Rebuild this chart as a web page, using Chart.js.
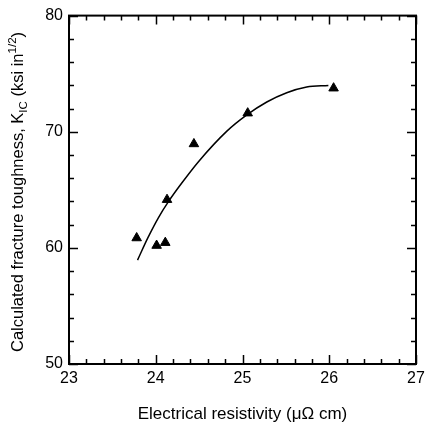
<!DOCTYPE html>
<html>
<head>
<meta charset="utf-8">
<script src="https://cdn.jsdelivr.net/npm/chart.js@4"></script>
<style>
html,body{margin:0;padding:0;background:#fff;overflow:hidden;width:425px;height:428px;}
#wrap{width:425px;height:428px;position:relative;overflow:hidden;}
</style>
</head>
<body>
<div id="wrap"><canvas id="c" width="434" height="428"></canvas></div>
<script>
// Measured data points (triangles)
const resistivity = [23.78, 24.01, 24.11, 24.13, 24.44, 25.06, 26.05];
const toughness   = [60.85, 60.2, 60.45, 64.15, 68.95, 71.6, 73.75];
// Fitted curve
const curveX = [23.79, 23.91, 24.03, 24.15, 24.30, 24.49, 24.82, 25.05, 25.28, 25.51, 25.74, 25.99];
const curveY = [58.95, 60.88, 62.59, 64.02, 65.58, 67.4, 70.05, 71.45, 72.56, 73.36, 73.85, 73.99];
// Axis ranges and ticks
const xMin = 23, xMax = 27, xMajor = 1, xMinor = 0.2;
const yMin = 50, yMax = 80, yMajor = 10, yMinor = 2;
const xTitle = "Electrical resistivity (\u03bc\u03a9 cm)";
const yTitleParts = [
  ["Calculated fracture toughness, K", "n"],
  ["IC", "sub"],
  [" (ksi in", "n"],
  ["1/2", "sup"],
  [")", "n"]
];

const FONT = "'Liberation Sans', Arial, Helvetica, sans-serif";

const framePlugin = {
  id: 'frame',
  afterDraw(chart) {
    const ctx = chart.ctx;
    const a = chart.chartArea;
    const xs = chart.scales.x, ys = chart.scales.y;
    ctx.save();
    ctx.strokeStyle = '#000';
    ctx.lineWidth = 2;
    ctx.strokeRect(a.left, a.top, a.right - a.left, a.bottom - a.top);
    ctx.lineWidth = 1.5;
    const nx = Math.round((xMax - xMin) / xMinor);
    for (let i = 0; i <= nx; i++) {
      const v = xMin + i * xMinor;
      const major = Math.abs(v / xMajor - Math.round(v / xMajor)) < 1e-6;
      const len = major ? 9 : 5;
      const px = Math.round(xs.getPixelForValue(v)) + 0.5;
      ctx.beginPath();
      ctx.moveTo(px, a.bottom); ctx.lineTo(px, a.bottom - len);
      ctx.moveTo(px, a.top); ctx.lineTo(px, a.top + len);
      ctx.stroke();
    }
    const ny = Math.round((yMax - yMin) / yMinor);
    for (let i = 0; i <= ny; i++) {
      const v = yMin + i * yMinor;
      const major = Math.abs(v / yMajor - Math.round(v / yMajor)) < 1e-6;
      const len = major ? 9 : 5;
      const py = Math.round(ys.getPixelForValue(v)) + 0.5;
      ctx.beginPath();
      ctx.moveTo(a.left, py); ctx.lineTo(a.left + len, py);
      ctx.moveTo(a.right, py); ctx.lineTo(a.right - len, py);
      ctx.stroke();
    }
    // Rotated y-axis title with sub/superscripts
    ctx.fillStyle = '#000';
    ctx.textBaseline = 'alphabetic';
    const big = "16.5px " + FONT, small = "11.5px " + FONT;
    let total = 0;
    for (const [t, k] of yTitleParts) {
      ctx.font = k === 'n' ? big : small;
      total += ctx.measureText(t).width;
    }
    ctx.translate(23, 192);
    ctx.rotate(-Math.PI / 2);
    let x = -total / 2;
    for (const [t, k] of yTitleParts) {
      ctx.font = k === 'n' ? big : small;
      const dy = k === 'sub' ? 4 : (k === 'sup' ? -7 : 0);
      ctx.fillText(t, x, dy);
      x += ctx.measureText(t).width;
    }
    ctx.restore();
  }
};

new Chart(document.getElementById('c'), {
  type: 'scatter',
  data: {
    datasets: [
      {
        label: 'fit',
        data: curveX.map((x, i) => ({ x, y: curveY[i] })),
        showLine: true,
        borderColor: '#000',
        borderWidth: 1.5,
        pointRadius: 0,
        cubicInterpolationMode: 'monotone',
        fill: false,
        order: 2
      },
      {
        label: 'data',
        data: resistivity.map((x, i) => ({ x, y: toughness[i] })),
        pointStyle: 'triangle',
        pointRadius: 5.5,
        backgroundColor: '#000',
        borderColor: '#000',
        borderWidth: 1,
        order: 1
      }
    ]
  },
  options: {
    responsive: false,
    animation: false,
    events: [],
    layout: { padding: { top: 13, right: 18, left: 0, bottom: 0 } },
    plugins: { legend: { display: false }, tooltip: { enabled: false } },
    scales: {
      x: {
        type: 'linear',
        min: xMin, max: xMax,
        grid: { display: false, drawTicks: false },
        border: { display: false },
        ticks: { stepSize: xMajor, color: '#000', font: { size: 16, family: FONT }, padding: 5, maxRotation: 0 },
        title: { display: true, text: xTitle, color: '#000', font: { size: 17, family: FONT }, padding: { top: 0, bottom: 3 } },
        afterFit(s) { s.height = 64; }
      },
      y: {
        type: 'linear',
        min: yMin, max: yMax,
        grid: { display: false, drawTicks: false },
        border: { display: false },
        ticks: { stepSize: yMajor, color: '#000', font: { size: 16, family: FONT }, padding: 6 },
        afterFit(s) { s.width = 69; }
      }
    }
  },
  plugins: [framePlugin]
});
</script>
</body>
</html>
